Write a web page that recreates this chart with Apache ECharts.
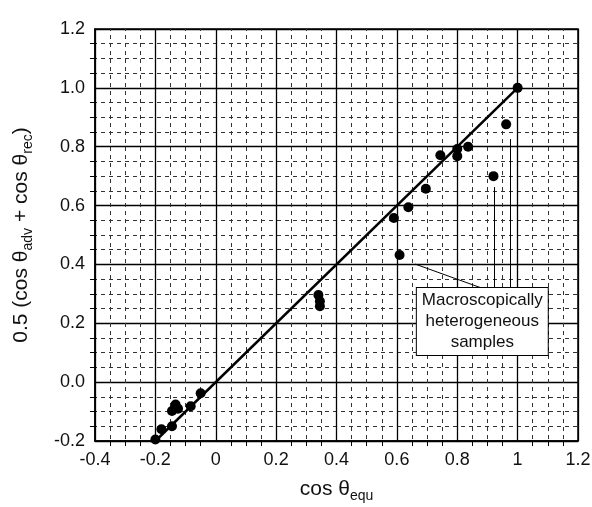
<!DOCTYPE html>
<html><head><meta charset="utf-8">
<script src="https://cdn.jsdelivr.net/npm/echarts@6/dist/echarts.min.js"></script>
<style>html,body{margin:0;background:#fff}#c{width:592px;height:507px}</style>
</head><body><div id="c"></div>
<script>
// x: cos θequ, y: 0.5 (cos θadv + cos θrec)
const cosEqu = [-0.20, -0.18, -0.145, -0.145, -0.133, -0.125, -0.083, -0.05,
                0.34, 0.345, 0.345, 0.59, 0.638, 0.696, 0.744, 0.80, 0.80, 0.836, 1.0];
const cosMean = [-0.195, -0.16, -0.15, -0.098, -0.076, -0.09, -0.082, -0.038,
                 0.296, 0.275, 0.258, 0.558, 0.594, 0.657, 0.771, 0.792, 0.768, 0.80, 1.0];
// macroscopically heterogeneous samples
const hetEqu = [0.609, 0.92, 0.962];
const hetMean = [0.432, 0.70, 0.876];
// y = x reference line
const lineX = [-0.2, 1.0];
const lineY = [-0.2, 1.0];
// annotation
const noteText = ['Macroscopically', 'heterogeneous', 'samples'];
const notePos = [0.883, 0.206];
const leaderFrom = [[0.661, 0.401], [0.922, 0.663], [0.975, 0.826]];
const leaderTo = [[0.883, 0.319], [0.922, 0.319], [0.975, 0.319]];

const FONT = '"Liberation Sans", Arial, Helvetica, sans-serif';
const chart = echarts.init(document.getElementById('c'));

const axisCommon = {
  type: 'value',
  interval: 0.2,
  axisLine: { show: true, onZero: false, lineStyle: { color: '#000', width: 1.5 } },
  axisTick: { show: false },
  minorTick: { show: true, splitNumber: 4, length: 5, lineStyle: { color: '#000', width: 1 } },
  splitLine: { show: true, lineStyle: { color: '#000', width: 1.3 } },
  minorSplitLine: { show: true, lineStyle: { color: '#333', width: 1, type: [4, 4], dashOffset: 2 } },
  axisLabel: { color: '#111', fontSize: 18, fontFamily: FONT },
  nameTextStyle: {
    color: '#111', fontSize: 21, fontFamily: FONT, lineHeight: 27,
    rich: { s: { fontSize: 14, fontFamily: FONT, color: '#111', lineHeight: 27, verticalAlign: 'bottom' } }
  }
};

chart.setOption({
  animation: false,
  backgroundColor: '#fff',
  grid: { left: 95, right: 14, top: 29, bottom: 66, outerBoundsMode: 'none', containLabel: false,
          show: true, borderColor: '#000', borderWidth: 1.5 },
  xAxis: Object.assign({}, axisCommon, {
    min: -0.4, max: 1.2,
    name: 'cos θ{s|equ}', nameLocation: 'middle', nameGap: 35,
    axisLabel: Object.assign({}, axisCommon.axisLabel, {
      margin: 10,
      formatter: v => String(Math.round(v * 10) / 10)
    })
  }),
  yAxis: Object.assign({}, axisCommon, {
    min: -0.2, max: 1.2,
    name: '0.5 (cos θ{s|adv} + cos θ{s|rec})', nameLocation: 'middle', nameGap: 60,
    axisLabel: Object.assign({}, axisCommon.axisLabel, {
      margin: 10,
      formatter: v => (Math.abs(v) < 1e-9 ? 0 : v).toFixed(1)
    })
  }),
  series: [
    {
      type: 'line', data: lineX.map((x, i) => [x, lineY[i]]),
      symbol: 'none', lineStyle: { color: '#000', width: 2.5, opacity: 1 }, z: 3
    },
    {
      type: 'scatter', data: cosEqu.map((x, i) => [x, cosMean[i]]),
      symbolSize: 10, itemStyle: { color: '#000', opacity: 1 }, z: 4
    },
    {
      type: 'scatter', data: hetEqu.map((x, i) => [x, hetMean[i]]),
      symbolSize: 10, itemStyle: { color: '#000', opacity: 1 }, z: 4,
      markLine: {
        silent: true, symbol: 'none', animation: false,
        lineStyle: { color: '#000', width: 1, type: 'solid', opacity: 1 },
        emphasis: { disabled: true },
        label: { show: false },
        data: leaderFrom.map((p, i) => [{ coord: p }, { coord: leaderTo[i] }])
      }
    },
    {
      type: 'scatter', data: [notePos], symbolSize: 0, z: 6,
      itemStyle: { opacity: 1 },
      label: {
        show: true, position: 'inside',
        formatter: noteText.join('\n'),
        color: '#111', fontSize: 17, fontFamily: FONT, lineHeight: 21, align: 'center',
        backgroundColor: '#fff', borderColor: '#000', borderWidth: 1,
        padding: [2, 5, 2, 5]
      }
    }
  ]
});
</script>
</body></html>
